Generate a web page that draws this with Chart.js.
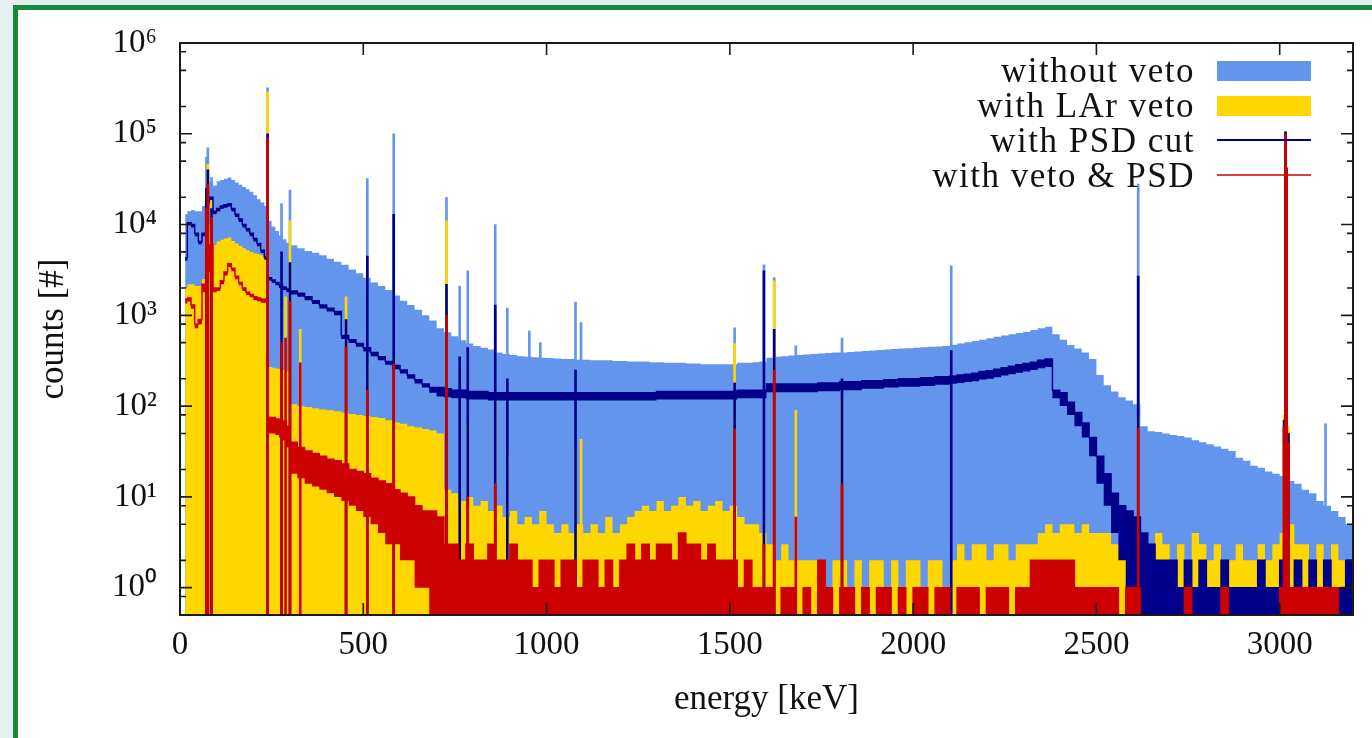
<!DOCTYPE html>
<html>
<head>
<meta charset="utf-8">
<script src="https://cdn.jsdelivr.net/npm/chart.js@4"></script>
<style>
  html, body { margin: 0; padding: 0; background: #e4f0ef; overflow: hidden; }
  #frame { position: absolute; left: 13px; top: 5px; width: 1400px; height: 760px;
           border-left: 5px solid #17893a; border-top: 5px solid #17893a; background: #fff; }
  #spectrum { position: absolute; left: 0; top: 0; }
</style>
</head>
<body>
<div id="frame"></div>
<canvas id="spectrum" width="1372" height="738"></canvas>
<script>
// bin start energies [keV]: 10 keV bins below 300, 20 keV bins above
const lowBins = [14, 20, 30, 40, 50, 60, 70, 80, 90, 100, 110, 120, 130, 140, 150,
                 160, 170, 180, 190, 200, 210, 220, 230, 240, 250, 260, 270, 280, 290];
const binStart = lowBins.slice();
for (let e = 300; e < 3200; e += 20) binStart.push(e);
const energyMax = 3200;

const seriesNames = ["without veto", "with LAr veto", "with PSD cut", "with veto & PSD"];

// counts per bin (top of the visible histogram)
const withoutVeto = [
  13000, 14000, 14500, 14000, 14000, 16000, 26000, 30000, 27000, 30000,
  31000, 32000, 33000, 31000, 29000, 27500, 26000, 24500, 23000, 21000,
  19000, 17500, 16000, 11000, 9500, 8500, 7600, 6900, 6300,
  5900, 5500, 5100, 4900, 4600, 4200, 3900, 3600, 3200, 2900,
  2600, 2300, 2100, 1900, 1650, 1450, 1300, 1150, 1000, 880,
  720, 650, 590, 530, 490, 460, 440, 420, 390, 375,
  365, 355, 350, 345, 340, 338, 335, 330, 330, 325,
  325, 320, 320, 320, 315, 315, 310, 310, 310, 305,
  305, 300, 300, 300, 295, 295, 290, 290, 290, 290,
  290, 300, 300, 305, 310, 340, 350, 355, 360, 365,
  370, 375, 380, 385, 390, 390, 395, 400, 405, 410,
  415, 420, 425, 430, 435, 440, 445, 450, 455, 460,
  475, 490, 505, 520, 540, 560, 580, 600, 620, 640,
  660, 690, 720, 750, 620, 540, 470, 430, 390, 330,
  220, 170, 145, 125, 115, 105, 60, 53, 52, 50,
  48, 47, 45, 42, 40, 38, 36, 34, 32, 27,
  25, 22, 21, 19, 18, 17, 15, 14, 12, 11,
  9, 8, 7, 6, 5
];

const withLArVeto = [
  2000, 2200, 2200, 2100, 2100, 2500, 8000, 10000, 6000, 6500,
  6800, 7000, 7200, 6600, 6200, 5800, 5500, 5200, 5000, 4800,
  4700, 4600, 4500, 270, 265, 260, 255, 250, 240,
  105, 100, 98, 95, 92, 90, 88, 85, 82, 80,
  78, 76, 74, 70, 66, 64, 60, 58, 56, 54,
  50, 12, 11, 9, 10, 8, 9, 7, 8, 6,
  7, 5, 6, 5, 7, 5, 4, 5, 4, 5,
  4, 5, 4, 6, 4, 5, 6, 7, 8, 7,
  9, 7, 8, 10, 8, 9, 7, 8, 9, 7,
  8, 6, 5, 5, 4, 3, 2, 3, 2, 2,
  2, 2, 2, 1, 2, 2, 1, 2, 1, 2,
  2, 1, 2, 1, 2, 2, 1, 2, 2, 1,
  2, 3, 2, 3, 3, 2, 3, 3, 2, 3,
  3, 3, 4, 5, 4, 5, 5, 4, 5, 4,
  4, 4, 3, 3, 2, 3, 3, 2, 4, 3,
  2, 3, 2, 4, 3, 2, 3, 2, 2, 3,
  2, 2, 3, 2, 3, 4, 5, 3, 3, 2,
  3, 2, 3, 2, 2
];

// PSD line: upper and lower edge of the noisy line
const psdHigh = [
  4300, 10500, 10000, 8000, 6500, 8000, 18000, 20000, 14000, 15000,
  16000, 16500, 17000, 15000, 13000, 11500, 10000, 9000, 8000, 7000,
  6200, 5200, 4400, 2600, 2450, 2300, 2150, 2050, 1950,
  1850, 1750, 1600, 1450, 1300, 1200, 1100, 600, 540, 490,
  440, 390, 350, 310, 280, 250, 220, 195, 175, 160,
  160, 155, 150, 150, 145, 145, 145, 140, 140, 140,
  140, 140, 140, 140, 140, 140, 140, 140, 140, 140,
  140, 140, 140, 140, 140, 140, 140, 140, 140, 140,
  145, 145, 145, 145, 145, 145, 145, 145, 145, 145,
  145, 150, 150, 150, 150, 175, 175, 175, 175, 175,
  175, 175, 180, 180, 180, 185, 185, 185, 190, 190,
  190, 195, 195, 200, 200, 200, 205, 205, 210, 210,
  215, 220, 225, 230, 240, 245, 255, 265, 275, 285,
  295, 305, 320, 330, 150, 140, 110, 85, 65, 45,
  28, 18, 11, 8, 7, 6, 4, 3, 2, 2,
  2, 1, 2, 1, 2, 1, 1, 2, 1, 1,
  1, 1, 2, 1, 1, 2, 1, 2, 1, 2,
  1, 2, 1, 1, 2
];

const psdLow = [
  4000, 9800, 9300, 7450, 6050, 7450, 16700, 18600, 13000, 13950,
  14900, 15350, 15800, 13950, 12100, 10700, 9300, 8400, 7450, 6500,
  5750, 4850, 4100, 2420, 2280, 2140, 2000, 1900, 1810,
  1700, 1600, 1470, 1330, 1190, 1100, 1000, 550, 495, 450,
  400, 355, 320, 285, 255, 228, 200, 178, 160, 140,
  128, 125, 122, 122, 118, 118, 118, 115, 115, 115,
  115, 115, 115, 115, 115, 115, 115, 115, 115, 115,
  115, 115, 115, 115, 115, 115, 115, 115, 115, 115,
  118, 118, 118, 118, 118, 118, 118, 118, 118, 118,
  118, 122, 122, 122, 122, 142, 142, 142, 142, 142,
  142, 142, 146, 146, 146, 150, 150, 150, 155, 155,
  155, 160, 160, 163, 163, 163, 167, 167, 172, 172,
  176, 180, 184, 188, 196, 200, 208, 217, 225, 233,
  241, 250, 262, 270, 122, 100, 80, 60, 45, 28,
  14, 8, 4, 2, 1, 0, 0, 0, 0, 0,
  0, 0, 0, 0, 0, 0, 0, 0, 0, 0,
  0, 0, 0, 0, 0, 0, 0, 0, 0, 0,
  0, 0, 0, 0, 0
];

// LAr veto + PSD line: upper and lower edge
const vetoPsdHigh = [
  1500, 1550, 1300, 800, 900, 2200, 5000, 6000, 2000, 2000,
  2400, 3000, 3700, 3300, 2700, 2300, 2000, 1800, 1700, 1600,
  1550, 1500, 1500, 75, 75, 72, 70, 68, 60,
  40, 35, 32, 30, 28, 26, 25, 23, 20, 19,
  18, 16, 15, 14, 12, 11, 10, 8, 7, 7,
  6, 3, 3, 2, 3, 2, 2, 3, 2, 2,
  3, 2, 2, 1, 2, 2, 1, 2, 2, 1,
  2, 2, 1, 2, 1, 2, 3, 2, 3, 2,
  3, 3, 2, 4, 3, 3, 2, 3, 2, 2,
  2, 1, 2, 1, 1, 1, 0, 1, 1, 0,
  1, 0, 2, 1, 0, 1, 1, 0, 1, 0,
  1, 1, 0, 1, 0, 1, 1, 0, 1, 1,
  0, 1, 1, 1, 0, 1, 1, 1, 0, 1,
  1, 2, 2, 2, 2, 2, 2, 1, 1, 1,
  1, 1, 1, 0, 1, 1, 0, 0, 0, 0,
  0, 0, 1, 0, 0, 0, 0, 1, 0, 0,
  0, 0, 0, 0, 0, 1, 1, 1, 1, 1,
  1, 1, 1, 0, 0
];

const vetoPsdLow = [
  1350, 1420, 1180, 720, 800, 1800, 2800, 3000, 1800, 1850,
  2200, 2750, 3400, 3050, 2500, 2150, 1850, 1670, 1580, 1480,
  1430, 1380, 1380, 50, 50, 48, 45, 42, 35,
  18, 16, 14, 13, 12, 11, 10, 9, 8, 7,
  6, 5, 4, 3, 3, 2, 2, 1, 1, 0,
  0, 0, 0, 0, 0, 0, 0, 0, 0, 0,
  0, 0, 0, 0, 0, 0, 0, 0, 0, 0,
  0, 0, 0, 0, 0, 0, 0, 0, 0, 0,
  0, 0, 0, 0, 0, 0, 0, 0, 0, 0,
  0, 0, 0, 0, 0, 0, 0, 0, 0, 0,
  0, 0, 0, 0, 0, 0, 0, 0, 0, 0,
  0, 0, 0, 0, 0, 0, 0, 0, 0, 0,
  0, 0, 0, 0, 0, 0, 0, 0, 0, 0,
  0, 0, 0, 0, 0, 0, 0, 0, 0, 0,
  0, 0, 0, 0, 0, 0, 0, 0, 0, 0,
  0, 0, 0, 0, 0, 0, 0, 0, 0, 0,
  0, 0, 0, 0, 0, 0, 0, 0, 0, 0,
  0, 0, 0, 0, 0
];

// gamma lines: energy and peak height in each spectrum (0 = not visible)
const peakEnergy      = [72, 76, 86, 239, 277, 288, 300, 328, 453, 511, 583, 727, 763, 785, 860, 893,
                         953, 983, 1079, 1094, 1513, 1593, 1621, 1680, 1806, 2104, 2614, 3012, 3016, 3019, 3024, 3125];
const peakWithoutVeto = [55000, 70000, 33000, 320000, 17000, 0, 24000, 0, 0, 32000, 100000, 20000, 2100, 3100, 10000, 1200,
                         670, 500, 1400, 830, 730, 3600, 2600, 460, 560, 3500, 28000, 60, 105000, 42000, 50, 64];
const peakLArVeto     = [25000, 46000, 20000, 290000, 1200, 1600, 11000, 700, 1600, 300, 350, 11000, 0, 65, 135, 30,
                         0, 0, 35, 43, 490, 5, 2400, 90, 120, 0, 75, 80, 105000, 42000, 60, 0];
const peakPSD         = [25000, 40000, 15000, 100000, 5000, 0, 3800, 0, 900, 4500, 13000, 2200, 350, 440, 1300, 200,
                         0, 0, 250, 0, 180, 3100, 700, 0, 200, 410, 2700, 70, 105000, 42000, 50, 0];
const peakVetoPSD     = [15000, 28000, 12000, 90000, 500, 560, 1400, 300, 450, 150, 290, 1000, 0, 10, 14, 0,
                         0, 0, 0, 0, 56, 3, 250, 6, 14, 0, 57, 60, 100000, 42000, 40, 0];

const xTicks = [0, 500, 1000, 1500, 2000, 2500, 3000];
const yDecades = [0, 1, 2, 3, 4, 5, 6];
const minorFactors = [2, 5, 8];
const superDigits = ["⁰", "¹", "²", "³", "⁴", "⁵", "⁶"];

[withoutVeto, withLArVeto, psdHigh, psdLow, vetoPsdHigh, vetoPsdLow].forEach((arr, i) => {
  if (arr.length !== binStart.length) throw new Error("series " + i + " has " + arr.length + " bins, expected " + binStart.length);
});

const colBlue = "#6495ed", colGold = "#ffd700", colNavy = "#00008b", colRed = "#cd0000";
const serif = "'Liberation Serif', 'Times New Roman', serif";
const yMin = 0.5;
// empty bins cannot sit on a log axis; put them just under the bottom edge
const emptyBin = yMin / 5;

function steps(values) {
  const pts = values.map((v, i) => ({ x: binStart[i], y: v > 0 ? v : emptyBin }));
  pts.push({ x: energyMax, y: pts[pts.length - 1].y });
  return pts;
}

function spikes(heights) {
  return peakEnergy.map((e, i) => ({ x: e, y: heights[i] })).filter(p => p.y > 0);
}

function histo(values, color, extra) {
  return Object.assign({
    data: steps(values), stepped: true, pointRadius: 0,
    borderColor: color, backgroundColor: color, borderWidth: 0
  }, extra);
}

function lines(heights, color, order) {
  return {
    type: "bar", data: spikes(heights), backgroundColor: color,
    barThickness: 2, grouped: false, borderWidth: 0, order: order
  };
}

const frameTicks = {
  id: "frameTicks",
  afterDatasetsDraw(chart) {
    const { ctx, chartArea: a, scales: { x, y } } = chart;
    ctx.save();
    ctx.strokeStyle = "#1a1a1a";
    ctx.lineWidth = 1.6;
    ctx.beginPath();
    xTicks.forEach(v => {
      const px = x.getPixelForValue(v);
      ctx.moveTo(px, a.bottom); ctx.lineTo(px, a.bottom - 12);
      ctx.moveTo(px, a.top); ctx.lineTo(px, a.top + 12);
    });
    const tick = (v, len) => {
      if (v < y.min || v > y.max) return;
      const py = y.getPixelForValue(v);
      ctx.moveTo(a.left, py); ctx.lineTo(a.left + len, py);
      ctx.moveTo(a.right, py); ctx.lineTo(a.right - len, py);
    };
    yDecades.forEach(d => tick(Math.pow(10, d), 12));
    [-1].concat(yDecades).forEach(d => minorFactors.forEach(m => tick(m * Math.pow(10, d), 6)));
    ctx.stroke();
    ctx.lineWidth = 2;
    ctx.strokeRect(a.left, a.top, a.right - a.left, a.bottom - a.top);
    ctx.restore();
  }
};

const keyBox = {
  id: "keyBox",
  afterDraw(chart) {
    const { ctx, chartArea: a } = chart;
    const textRight = a.right - 158, boxLeft = a.right - 136, boxW = 94;
    const fills = [colBlue, colGold];
    const strokes = [null, null, colNavy, colRed];
    ctx.save();
    ctx.font = "35px " + serif;
    ctx.letterSpacing = "1.5px";
    ctx.textAlign = "right";
    ctx.textBaseline = "middle";
    seriesNames.forEach((name, i) => {
      const rowY = a.top + 28 + i * 35;
      ctx.fillStyle = "#111";
      ctx.fillText(name, textRight, rowY + 2);
      if (fills[i]) {
        ctx.fillStyle = fills[i];
        ctx.fillRect(boxLeft, rowY - 10, boxW, 20);
      } else {
        ctx.strokeStyle = strokes[i];
        ctx.lineWidth = i === 2 ? 2 : 1.5;
        ctx.beginPath();
        ctx.moveTo(boxLeft, rowY - 1); ctx.lineTo(boxLeft + boxW, rowY - 1);
        ctx.stroke();
      }
    });
    ctx.restore();
  }
};

new Chart(document.getElementById("spectrum"), {
  type: "line",
  data: {
    datasets: [
      histo(withoutVeto, colBlue, { label: seriesNames[0], fill: "start", order: 8 }),
      lines(peakWithoutVeto, colBlue, 7),
      histo(withLArVeto, colGold, { label: seriesNames[1], fill: "start", order: 6 }),
      lines(peakLArVeto, colGold, 5),
      histo(psdHigh, colNavy, { label: seriesNames[2], fill: "+1", borderWidth: 1.5, order: 4 }),
      histo(psdLow, colNavy, { fill: false, order: 4 }),
      lines(peakPSD, colNavy, 3),
      histo(vetoPsdHigh, colRed, { label: seriesNames[3], fill: "+1", borderWidth: 1.5, order: 2 }),
      histo(vetoPsdLow, colRed, { fill: false, order: 2 }),
      lines(peakVetoPSD, colRed, 1)
    ]
  },
  options: {
    responsive: false,
    animation: false,
    events: [],
    layout: { padding: { top: 43, right: 19, left: 0, bottom: 0 } },
    plugins: { legend: { display: false }, tooltip: { enabled: false } },
    scales: {
      x: {
        type: "linear", min: 0, max: energyMax, offset: false,
        afterBuildTicks: s => { s.ticks = xTicks.map(v => ({ value: v })); },
        afterFit: s => { s.height = 123; },
        grid: { display: false, drawTicks: false },
        border: { display: false },
        ticks: { autoSkip: false, maxRotation: 0, padding: 11, color: "#111",
                 font: { family: serif, size: 33 }, callback: v => String(v) },
        title: { display: true, text: "energy [keV]", color: "#111",
                 font: { family: serif, size: 35 }, padding: { top: 0, bottom: 17 } }
      },
      y: {
        type: "logarithmic", min: yMin, max: 1e6,
        afterBuildTicks: s => { s.ticks = yDecades.map(d => ({ value: Math.pow(10, d) })); },
        afterFit: s => { s.width = 180; },
        grid: { display: false, drawTicks: false },
        border: { display: false },
        ticks: { autoSkip: false, padding: 23, color: "#111",
                 font: { family: serif, size: 33 },
                 callback: v => "10" + superDigits[Math.round(Math.log10(v))] },
        title: { display: true, text: "counts [#]", color: "#111",
                 font: { family: serif, size: 35 }, padding: { top: 33, bottom: 0 } }
      }
    }
  },
  plugins: [frameTicks, keyBox]
});
</script>
</body>
</html>
